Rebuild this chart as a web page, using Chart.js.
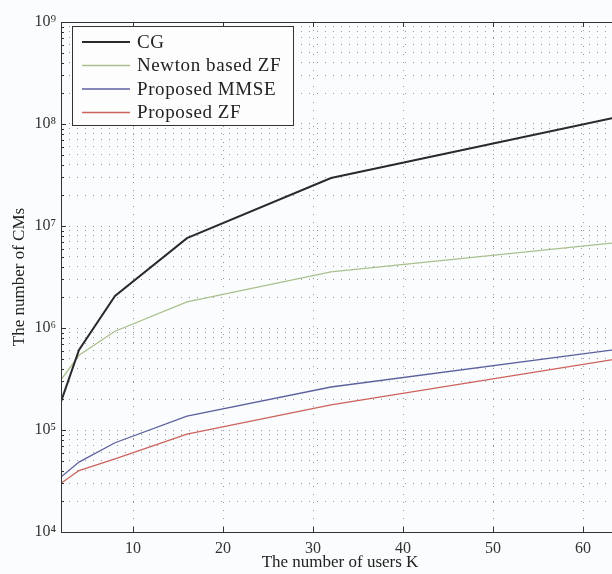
<!DOCTYPE html>
<html>
<head>
<meta charset="utf-8">
<script src="https://cdn.jsdelivr.net/npm/chart.js@4"></script>
<style>
  html, body { margin: 0; padding: 0; overflow: hidden; background: #fbfcfd; }
  #wrap { width: 640px; height: 574px; }
</style>
</head>
<body>
<div id="wrap"><canvas id="myChart" width="640" height="574"></canvas></div>
<script>
// number of users K
const users = [2, 4, 8, 16, 32, 64];
// number of CMs per method
const cgValues = [1.9e5, 6.1e5, 2.06e6, 7.6e6, 2.95e7, 1.18e8];
const newtonValues = [3.1e5, 5.4e5, 9.3e5, 1.8e6, 3.55e6, 6.9e6];
const mmseValues = [3.46e4, 4.85e4, 7.5e4, 1.37e5, 2.64e5, 6.2e5];
const zfValues = [3.0e4, 4.0e4, 5.2e4, 9.1e4, 1.76e5, 5.0e5];
// axis ticks
const xTicks = [10, 20, 30, 40, 50, 60];
const yDecades = [4, 5, 6, 7, 8, 9];

const sup = { 4: "\u2074", 5: "\u2075", 6: "\u2076", 7: "\u2077", 8: "\u2078", 9: "\u2079" };
const serif = "'Liberation Serif', 'DejaVu Serif', serif";

const yTickValues = [];
yDecades.forEach((e) => {
  if (e === 9) {
    yTickValues.push(1e9);
    return;
  }
  for (let m = 1; m <= 9; m++) yTickValues.push(m * Math.pow(10, e));
});

const toPoints = (vals) => vals.map((v, i) => ({ x: users[i], y: v }));

// box round the plot, inward tick marks, legend
const framePlugin = {
  id: "frame",
  afterDatasetsDraw(chart) {
    const { ctx, chartArea: a, scales } = chart;
    ctx.save();
    ctx.strokeStyle = "#333";
    ctx.lineWidth = 1;
    ctx.strokeRect(a.left + 0.5, a.top + 0.5, a.right - a.left, a.bottom - a.top);
    ctx.beginPath();
    xTicks.forEach((t) => {
      const x = Math.round(scales.x.getPixelForValue(t)) + 0.5;
      ctx.moveTo(x, a.bottom);
      ctx.lineTo(x, a.bottom - 5);
      ctx.moveTo(x, a.top);
      ctx.lineTo(x, a.top + 5);
    });
    yTickValues.forEach((v) => {
      const y = Math.round(scales.y.getPixelForValue(v)) + 0.5;
      const major = Math.abs(Math.log10(v) % 1) < 1e-9;
      ctx.moveTo(a.left, y);
      ctx.lineTo(a.left + (major ? 5 : 3), y);
    });
    ctx.stroke();

    // legend
    const bx = a.left + 11, by = a.top + 4, bw = 221, bh = 99;
    ctx.fillStyle = "#fdfdfe";
    ctx.fillRect(bx, by, bw, bh);
    ctx.strokeStyle = "#333";
    ctx.strokeRect(bx + 0.5, by + 0.5, bw, bh);
    ctx.font = "19px " + serif;
    ctx.letterSpacing = "0.6px";
    ctx.textBaseline = "middle";
    chart.data.datasets.forEach((ds, i) => {
      const y = by + 16 + i * 23.5;
      ctx.strokeStyle = ds.borderColor;
      ctx.lineWidth = ds.borderWidth;
      ctx.beginPath();
      ctx.moveTo(bx + 10, y);
      ctx.lineTo(bx + 58, y);
      ctx.stroke();
      ctx.fillStyle = "#222";
      ctx.fillText(ds.label, bx + 65, y + 1);
    });
    ctx.restore();
  },
};

const chart = new Chart(document.querySelector("#myChart"), {
  type: "line",
  data: {
    datasets: [
      { label: "CG", data: toPoints(cgValues), borderColor: "#2a2a2e", borderWidth: 2 },
      { label: "Newton based ZF", data: toPoints(newtonValues), borderColor: "#a9c08c", borderWidth: 1.3 },
      { label: "Proposed MMSE", data: toPoints(mmseValues), borderColor: "#5c619e", borderWidth: 1.3 },
      { label: "Proposed ZF", data: toPoints(zfValues), borderColor: "#cc625c", borderWidth: 1.3 },
    ],
  },
  options: {
    responsive: false,
    animation: false,
    events: [],
    layout: { padding: { top: 22, right: 21, left: 0, bottom: 0 } },
    elements: { point: { radius: 0 }, line: { tension: 0 } },
    plugins: { legend: { display: false }, tooltip: { enabled: false } },
    scales: {
      x: {
        type: "linear",
        min: 2,
        max: 64,
        afterBuildTicks: (scale) => {
          scale.ticks = xTicks.map((v) => ({ value: v }));
        },
        afterFit: (scale) => {
          scale.height = 42;
        },
        grid: { color: "#9a9a9a", lineWidth: 1, drawTicks: false },
        border: { display: false, dash: [1, 7] },
        ticks: { color: "#333", font: { family: serif, size: 16 }, padding: 7, maxRotation: 0 },
        title: {
          display: true,
          text: "The number of users K",
          color: "#222",
          font: { family: serif, size: 17 },
          padding: { top: 0, bottom: 1 },
        },
      },
      y: {
        type: "logarithmic",
        min: 1e4,
        max: 1e9,
        afterBuildTicks: (scale) => {
          scale.ticks = yTickValues.map((v) => ({ value: v }));
        },
        afterFit: (scale) => {
          scale.width = 61;
        },
        grid: { color: "#9a9a9a", lineWidth: 1, drawTicks: false },
        border: { display: false, dash: [1, 7] },
        ticks: {
          color: "#333",
          font: { family: serif, size: 16 },
          padding: 5,
          autoSkip: false,
          callback: (v) => {
            const e = Math.round(Math.log10(v));
            return Math.abs(Math.log10(v) - e) < 1e-9 ? "10" + sup[e] : "";
          },
        },
        title: {
          display: true,
          text: "The number of CMs",
          color: "#222",
          font: { family: serif, size: 17 },
          padding: { top: 9, bottom: 0 },
        },
      },
    },
  },
  plugins: [framePlugin],
});
</script>
</body>
</html>
